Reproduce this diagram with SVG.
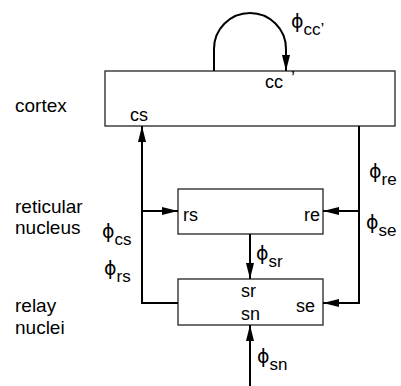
<svg xmlns="http://www.w3.org/2000/svg" width="401" height="386" viewBox="0 0 401 386">
<style>
.box{fill:#fff;stroke:#222;stroke-width:1.3}
.con{fill:none;stroke:#000;stroke-width:2}
.lbl{font-family:"Liberation Sans",Arial,sans-serif;font-size:19px;fill:#000}
.in{font-family:"Liberation Sans",Arial,sans-serif;font-size:18px;fill:#000}
.phi{font-family:"DejaVu Sans","Liberation Sans",sans-serif;font-size:19px;fill:#000}
.sub{font-family:"Liberation Sans",Arial,sans-serif;font-size:17px}
</style>
<defs>
<marker id="ah" markerUnits="userSpaceOnUse" markerWidth="16" markerHeight="8" refX="16" refY="4" orient="auto">
<path d="M0,0 L16,4 L0,8 z" fill="#000"/>
</marker>
</defs>
<rect width="401" height="386" fill="#fff"/>
<g id="cortex">
<rect class="box" x="105" y="71" width="290" height="55"/>
<text class="in" x="265" y="88">cc<tspan dx="8" dy="-4">’</tspan></text>
<text class="in" x="130" y="121">cs</text>
</g>
<g id="reticular">
<rect class="box" x="178" y="189" width="145" height="45"/>
<text class="in" x="183" y="221">rs</text>
<text class="in" x="320" y="221" text-anchor="end">re</text>
</g>
<g id="relay">
<rect class="box" x="178" y="279" width="145" height="46"/>
<text class="in" x="241" y="297">sr</text>
<text class="in" x="241" y="320">sn</text>
<text class="in" x="296" y="312">se</text>
</g>
<g id="labels">
<text class="lbl" x="15" y="112">cortex</text>
<text class="lbl" x="15" y="213">reticular</text>
<text class="lbl" x="15" y="234">nucleus</text>
<text class="lbl" x="15" y="312">relay</text>
<text class="lbl" x="15" y="334">nuclei</text>
</g>
<g id="connectors">
<path class="con" d="M214,71 V49 A36,36 0 0 1 286,49 V71" marker-end="url(#ah)"/>
<path class="con" d="M178,303 H142 V126" marker-end="url(#ah)"/>
<path class="con" d="M142,211 H178" marker-end="url(#ah)"/>
<path class="con" d="M359,126 V303 H323" marker-end="url(#ah)"/>
<path class="con" d="M359,211 H323" marker-end="url(#ah)"/>
<path class="con" d="M250,234 V279" marker-end="url(#ah)"/>
<path class="con" d="M250,386 V325" marker-end="url(#ah)"/>
</g>
<g id="connector-labels">
<text class="phi" x="291" y="28">ϕ<tspan class="sub" dy="7">cc’</tspan></text>
<text class="phi" x="102" y="238">ϕ<tspan class="sub" dy="7">cs</tspan></text>
<text class="phi" x="104" y="275">ϕ<tspan class="sub" dy="7">rs</tspan></text>
<text class="phi" x="369" y="178">ϕ<tspan class="sub" dy="7">re</tspan></text>
<text class="phi" x="366" y="229">ϕ<tspan class="sub" dy="7">se</tspan></text>
<text class="phi" x="256" y="260">ϕ<tspan class="sub" dy="7">sr</tspan></text>
<text class="phi" x="257" y="363">ϕ<tspan class="sub" dy="7">sn</tspan></text>
</g>
</svg>
